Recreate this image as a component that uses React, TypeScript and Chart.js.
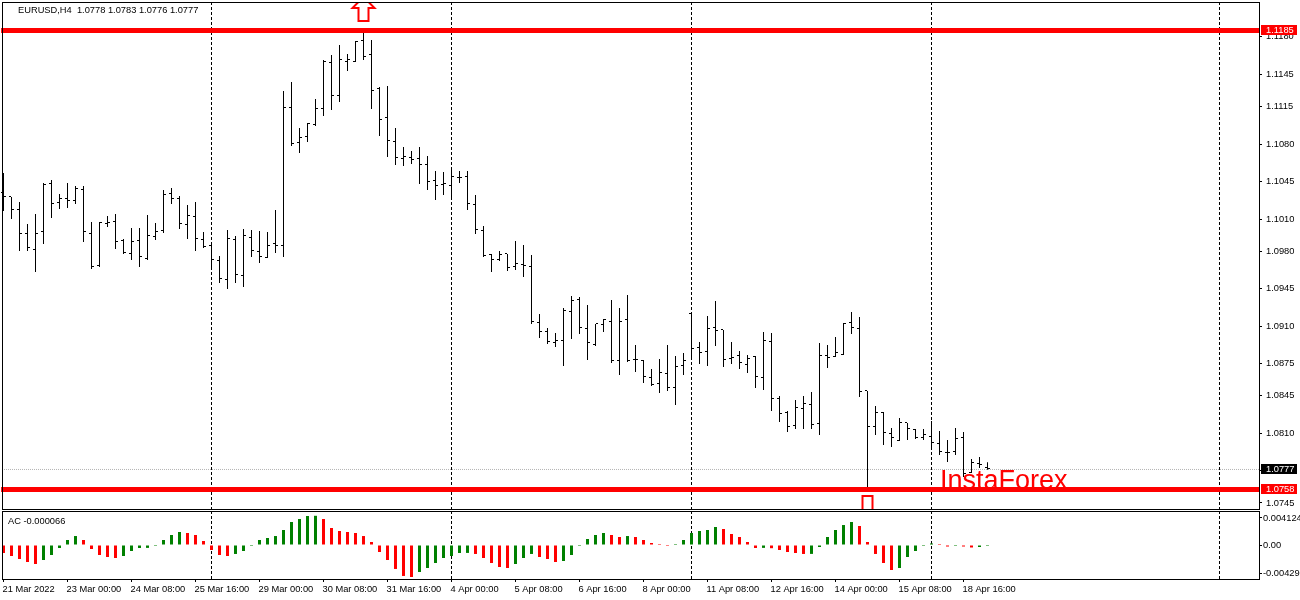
import React, { useEffect, useRef } from "react";
import { Chart, registerables } from "chart.js";

Chart.register(...registerables);

const opens = [
  1.10344, 1.10306, 1.10185, 1.0997, 1.09812, 1.0998, 1.10428, 1.1025, 1.10288, 1.10269,
  1.10372, 1.0997, 1.09662, 1.10054, 1.10073, 1.09896, 1.09774, 1.09896, 1.09728, 1.09933,
  1.09989, 1.10334, 1.10288, 1.10045, 1.1012, 1.09905, 1.09858, 1.09709, 1.09532, 1.09905,
  1.09569, 1.09924, 1.09793, 1.09737, 1.09868, 1.09849, 1.11146, 1.1081, 1.10866, 1.10978,
  1.11128, 1.11557, 1.11258, 1.11566, 1.11566, 1.11762, 1.11632, 1.11314, 1.11044, 1.1082,
  1.10661, 1.1067, 1.10661, 1.10605, 1.10456, 1.10418, 1.10409, 1.10484, 1.10502, 1.10232,
  1.09989, 1.09765, 1.09718, 1.09774, 1.09653, 1.09672, 1.09653, 1.0913, 1.09046, 1.08944,
  1.08962, 1.09233, 1.09345, 1.09074, 1.08925, 1.09112, 1.0914, 1.08776, 1.09158, 1.08785,
  1.08776, 1.08617, 1.08561, 1.08654, 1.08524, 1.08729, 1.09214, 1.08897, 1.0886, 1.09084,
  1.09065, 1.08794, 1.08822, 1.08738, 1.08813, 1.08617, 1.08953, 1.08421, 1.0829, 1.08169,
  1.08328, 1.08365, 1.08188, 1.08822, 1.08813, 1.08832, 1.0913, 1.09074, 1.08496, 1.0816,
  1.0829, 1.08094, 1.08029, 1.08197, 1.08132, 1.08057, 1.08066, 1.08001, 1.07917, 1.07926,
  1.08057, 1.0773, 1.07814, 1.0778,
];
const highs = [
  1.1053, 1.10306, 1.1026, 1.10054, 1.10148, 1.10437, 1.10465, 1.10334, 1.10437, 1.10409,
  1.10409, 1.10073, 1.10073, 1.10129, 1.10148, 1.09914, 1.10017, 1.10017, 1.10138, 1.10064,
  1.10372, 1.1039, 1.10316, 1.10232, 1.1026, 1.0998, 1.09886, 1.09756, 1.09998, 1.09942,
  1.10008, 1.09998, 1.09989, 1.0998, 1.10185, 1.11296, 1.1138, 1.1095, 1.10997, 1.11221,
  1.11585, 1.11632, 1.11725, 1.11641, 1.11762, 1.11837, 1.11772, 1.11333, 1.11342, 1.1095,
  1.10773, 1.10736, 1.10773, 1.10689, 1.10549, 1.1054, 1.10558, 1.10549, 1.10549, 1.10325,
  1.10036, 1.09774, 1.09802, 1.09774, 1.09896, 1.09858, 1.09765, 1.09214, 1.09084, 1.09037,
  1.0927, 1.09382, 1.09373, 1.09298, 1.09121, 1.09168, 1.09345, 1.0927, 1.09392, 1.08925,
  1.08785, 1.08701, 1.08794, 1.08925, 1.08822, 1.0885, 1.09224, 1.08953, 1.09196, 1.09336,
  1.09065, 1.08953, 1.08869, 1.08832, 1.08822, 1.09046, 1.09037, 1.08449, 1.08309, 1.08412,
  1.08449, 1.08486, 1.08944, 1.08925, 1.09, 1.0913, 1.09233, 1.09186, 1.08496, 1.08356,
  1.083, 1.0815, 1.08244, 1.08197, 1.08141, 1.08141, 1.08216, 1.08122, 1.08038, 1.0815,
  1.08113, 1.07861, 1.0788, 1.0783,
];
const lows = [
  1.10176, 1.10101, 1.09802, 1.09802, 1.09606, 1.09868, 1.1011, 1.10194, 1.10204, 1.10241,
  1.09886, 1.09634, 1.09653, 1.10026, 1.09821, 1.09774, 1.09718, 1.09653, 1.09718, 1.09905,
  1.0997, 1.10241, 1.10008, 1.09914, 1.09802, 1.0983, 1.09653, 1.09504, 1.09448, 1.09504,
  1.09466, 1.09746, 1.0969, 1.09737, 1.09784, 1.09746, 1.10782, 1.10717, 1.1082, 1.10969,
  1.11062, 1.11118, 1.11193, 1.11482, 1.11566, 1.11585, 1.11128, 1.10876, 1.1068, 1.10605,
  1.10596, 1.10614, 1.10428, 1.10372, 1.10278, 1.10325, 1.10306, 1.10437, 1.10185, 1.09961,
  1.09746, 1.09606, 1.09709, 1.09616, 1.09625, 1.0956, 1.09121, 1.0899, 1.08934, 1.08906,
  1.08729, 1.08981, 1.09028, 1.08785, 1.08916, 1.09046, 1.08757, 1.08645, 1.08766, 1.08673,
  1.0857, 1.08542, 1.08477, 1.08496, 1.08365, 1.08645, 1.08794, 1.08748, 1.08729, 1.08916,
  1.0872, 1.08748, 1.08701, 1.08664, 1.08524, 1.08505, 1.08309, 1.08206, 1.08113, 1.08141,
  1.08141, 1.08141, 1.08085, 1.0871, 1.08813, 1.08832, 1.09028, 1.0844, 1.07581, 1.08085,
  1.07992, 1.07973, 1.08029, 1.08038, 1.08048, 1.08038, 1.07954, 1.07898, 1.07833, 1.07898,
  1.07693, 1.0773, 1.07777, 1.0776,
];
const closes = [
  1.10306, 1.10185, 1.0997, 1.0983, 1.0997, 1.10418, 1.10241, 1.10288, 1.10269, 1.10381,
  1.0998, 1.09653, 1.10064, 1.10064, 1.09886, 1.09784, 1.09886, 1.09746, 1.09942, 1.0998,
  1.10325, 1.10288, 1.10054, 1.10129, 1.09914, 1.0984, 1.09718, 1.09541, 1.09914, 1.09578,
  1.09942, 1.09802, 1.09746, 1.09858, 1.09858, 1.11137, 1.10801, 1.10857, 1.10988, 1.11128,
  1.11566, 1.11258, 1.11585, 1.11585, 1.11753, 1.11613, 1.11296, 1.11025, 1.10829, 1.1067,
  1.1068, 1.10652, 1.10614, 1.10446, 1.10409, 1.10428, 1.10502, 1.10484, 1.10241, 1.09998,
  1.09756, 1.09718, 1.09765, 1.09644, 1.09681, 1.09662, 1.0914, 1.09046, 1.08953, 1.08962,
  1.09242, 1.09336, 1.09084, 1.08944, 1.09121, 1.09158, 1.08776, 1.0914, 1.08776, 1.08785,
  1.08626, 1.08552, 1.08664, 1.08524, 1.0872, 1.08776, 1.08888, 1.0885, 1.09074, 1.09056,
  1.08785, 1.08804, 1.08757, 1.08794, 1.08626, 1.08962, 1.08421, 1.08281, 1.0816, 1.08337,
  1.08374, 1.08178, 1.08822, 1.08804, 1.0885, 1.09121, 1.09084, 1.08486, 1.0816, 1.0829,
  1.08104, 1.08057, 1.08197, 1.08141, 1.08057, 1.08085, 1.0801, 1.07926, 1.07917, 1.08048,
  1.07721, 1.07824, 1.07805, 1.0777,
];
const acValues = [
  -0.00122, -0.00168, -0.00214, -0.0026, -0.0029, -0.00229, -0.00153, -0.00046, 0.00076, 0.00137,
  0.00076, -0.00061, -0.00153, -0.00183, -0.00199, -0.00168, -0.00092, -0.00046, -0.00044, -0.00015,
  0.00076, 0.00153, 0.00199, 0.00183, 0.00153, 0.00061, -0.00076, -0.00153, -0.00168, -0.00137,
  -0.00092, -0.00015, 0.00076, 0.00107, 0.00137, 0.00229, 0.00351, 0.00397, 0.00443, 0.00446,
  0.00397, 0.0026, 0.00214, 0.00199, 0.00183, 0.00137, 0.00046, -0.00107, -0.00229, -0.00366,
  -0.00473, -0.00489, -0.00412, -0.00351, -0.00275, -0.00199, -0.00168, -0.00122, -0.00121, -0.00137,
  -0.00199, -0.00275, -0.00336, -0.00351, -0.0029, -0.00199, -0.00137, -0.00183, -0.00214, -0.0026,
  -0.00244, -0.00153, -0.00015, 0.00092, 0.00153, 0.00183, 0.00153, 0.00122, 0.00137, 0.00122,
  0.00076, 0.00031, 0.00015, -0.00015, 0.00015, 0.00076, 0.00183, 0.00214, 0.00229, 0.00275,
  0.00244, 0.00168, 0.00122, 0.00046, -0.00046, -0.00044, -0.00049, -0.00076, -0.00107, -0.00122,
  -0.00137, -0.00136, -0.00031, 0.00122, 0.00229, 0.00305, 0.00351, 0.0029, 0.00046, -0.00137,
  -0.00275, -0.00382, -0.00351, -0.00183, -0.00092, -0.00008, 0.00023, 0.00015, -0.00023, -0.00008,
  -0.00023, -0.00038, -0.00031, -0.000066,
];

const priceTicks = [1.118, 1.1145, 1.1115, 1.108, 1.1045, 1.101, 1.098, 1.0945, 1.091, 1.0875, 1.0845, 1.081, 1.0775, 1.0745];
const acTicks = [0.004124, 0, -0.004292];
const acTickLabels = ["0.004124", "0.00", "-0.004292"];
const timeTickBars = [0, 8, 16, 24, 32, 40, 48, 56, 64, 72, 80, 88, 96, 104, 112, 120];
const timeLabels = [
  "21 Mar 2022", "23 Mar 00:00", "24 Mar 08:00", "25 Mar 16:00", "29 Mar 00:00", "30 Mar 08:00",
  "31 Mar 16:00", "4 Apr 00:00", "5 Apr 08:00", "6 Apr 16:00", "8 Apr 00:00", "11 Apr 08:00",
  "12 Apr 16:00", "14 Apr 00:00", "15 Apr 08:00", "18 Apr 16:00",
];
const separatorBars = [26, 56, 86, 116, 152];
const resistanceLevel = 1.1186;
const supportLevel = 1.07576;
const bidLevel = 1.07763;
const upArrow = { bar: 45, price: 1.11949 };
const downArrow = { bar: 108, price: 1.07516 };
const priceTags = [
  { price: resistanceLevel, text: "1.1185", bg: "#ff0000" },
  { price: bidLevel, text: "1.0777", bg: "#000000" },
  { price: supportLevel, text: "1.0758", bg: "#ff0000" },
];
const symbolTitle = "EURUSD,H4  1.0778 1.0783 1.0776 1.0777";
const acTitle = "AC -0.000066";
const watermark = "InstaForex";

const FONT = "'Liberation Sans', Arial, sans-serif";
const FONT_SIZE = 9.3;
const X_MIN = -0.1875;
const X_MAX = 156.9375;
const GREEN = "#008000";
const RED = "#ff0000";

const noPad = (s: any) => {
  s.paddingTop = 0;
  s.paddingBottom = 0;
  s.paddingLeft = 0;
  s.paddingRight = 0;
};
const fixWidth = (w: number) => (s: any) => { s.width = w; noPad(s); };
const fixHeight = (h: number) => (s: any) => { s.height = h; noPad(s); };

const separatorAxis = (position: string) => ({
  type: "linear",
  axis: "x",
  position,
  min: X_MIN,
  max: X_MAX,
  offset: false,
  afterBuildTicks: (s: any) => { s.ticks = separatorBars.map((value) => ({ value })); },
  afterFit: fixHeight(0),
  ticks: { display: false },
  grid: { offset: false, drawTicks: false, color: "#000", lineWidth: 1 },
  border: { display: false, dash: [3, 2] },
});

const frame = (c: any) => {
  const { ctx, chartArea: a } = c;
  ctx.save();
  ctx.strokeStyle = "#000";
  ctx.lineWidth = 1;
  ctx.strokeRect(a.left + 0.5, a.top + 0.5, a.right - a.left, a.bottom - a.top);
  ctx.restore();
};

const ohlcPlugin = {
  id: "ohlcTicks",
  beforeDatasetsDraw(c: any) {
    const { ctx, scales } = c;
    ctx.save();
    ctx.fillStyle = "#000";
    opens.forEach((o, i) => {
      const x = Math.floor(scales.x.getPixelForValue(i));
      ctx.fillRect(x - 2, Math.floor(scales.y.getPixelForValue(o)), 2, 1);
      ctx.fillRect(x + 1, Math.floor(scales.y.getPixelForValue(closes[i])), 2, 1);
    });
    ctx.restore();
  },
};

const arrowPath = (ctx: any, cx: number, tipY: number, dir: number, length: number) => {
  ctx.beginPath();
  ctx.moveTo(cx, tipY);
  ctx.lineTo(cx + 11, tipY + dir * 11);
  ctx.lineTo(cx + 5, tipY + dir * 11);
  ctx.lineTo(cx + 5, tipY + dir * length);
  ctx.lineTo(cx - 5, tipY + dir * length);
  ctx.lineTo(cx - 5, tipY + dir * 11);
  ctx.lineTo(cx - 11, tipY + dir * 11);
  ctx.closePath();
  ctx.stroke();
};

const mainDecor = {
  id: "mainDecor",
  afterDatasetsDraw(c: any) {
    const { ctx, scales, chartArea: a } = c;
    ctx.save();
    ctx.beginPath();
    ctx.rect(a.left, a.top, a.right - a.left, a.bottom - a.top);
    ctx.clip();
    ctx.strokeStyle = RED;
    ctx.lineWidth = 2;
    const ux = Math.floor(scales.x.getPixelForValue(upArrow.bar)) + 0.5;
    const uy = scales.y.getPixelForValue(upArrow.price);
    arrowPath(ctx, ux, uy - 24, 1, 24);
    const dx = Math.floor(scales.x.getPixelForValue(downArrow.bar)) + 0.5;
    const dy = scales.y.getPixelForValue(downArrow.price);
    arrowPath(ctx, dx, dy + 27, -1, 27);
    ctx.restore();

    ctx.save();
    ctx.textBaseline = "alphabetic";
    ctx.fillStyle = RED;
    ctx.font = `27px ${FONT}`;
    ctx.fillText(watermark, 940, scales.y.getPixelForValue(supportLevel) - 1);
    ctx.fillStyle = "#000";
    ctx.font = `${FONT_SIZE}px ${FONT}`;
    ctx.textBaseline = "middle";
    ctx.fillText(symbolTitle, 18, 10.5);
    ctx.restore();
  },
  afterDraw(c: any) {
    frame(c);
    const { ctx, scales } = c;
    ctx.save();
    ctx.font = `${FONT_SIZE}px ${FONT}`;
    ctx.textBaseline = "middle";
    priceTags.forEach((t) => {
      const y = Math.round(scales.y.getPixelForValue(t.price));
      ctx.fillStyle = t.bg;
      ctx.fillRect(1261, y - 5, 36, 10);
      ctx.fillStyle = "#fff";
      ctx.fillText(t.text, 1266, y + 0.5);
    });
    ctx.restore();
  },
};

const acDecor = {
  id: "acDecor",
  afterDraw(c: any) {
    frame(c);
    const { ctx } = c;
    ctx.save();
    ctx.fillStyle = "#000";
    ctx.font = `${FONT_SIZE}px ${FONT}`;
    ctx.textBaseline = "middle";
    ctx.fillText(acTitle, 8, 11);
    ctx.restore();
  },
};

export default function App() {
  const mainRef = useRef<HTMLCanvasElement>(null);
  const acRef = useRef<HTMLCanvasElement>(null);

  useEffect(() => {
    document.body.style.margin = "0";
    document.body.style.background = "#fff";
    const hLine = (y: number) => [{ x: -0.3, y }, { x: X_MAX, y }];
    const main = new Chart(mainRef.current as any, {
      type: "bar",
      data: {
        datasets: [
          {
            type: "line",
            label: "Resistance",
            data: hLine(resistanceLevel),
            borderColor: RED,
            borderWidth: 5,
            pointRadius: 0,
            clip: false,
            order: 1,
          },
          {
            type: "line",
            label: "Support",
            data: hLine(supportLevel),
            borderColor: RED,
            borderWidth: 5,
            pointRadius: 0,
            clip: false,
            order: 1,
          },
          {
            type: "line",
            label: "Bid",
            data: [{ x: X_MIN, y: bidLevel }, { x: X_MAX, y: bidLevel }],
            borderColor: "#b4b4b4",
            borderWidth: 1,
            borderDash: [1, 1],
            pointRadius: 0,
            order: 4,
          },
          {
            type: "bar",
            label: "EURUSD",
            data: highs.map((h, i) => ({ x: i, y: [lows[i], h] })),
            backgroundColor: "#000",
            barThickness: 1,
            grouped: false,
            inflateAmount: 0,
            order: 3,
          },
        ] as any,
      },
      options: {
        responsive: false,
        animation: false,
        devicePixelRatio: 1,
        layout: { padding: { left: 2, top: 2, right: 0, bottom: 1 } },
        plugins: { legend: { display: false }, tooltip: { enabled: false }, title: { display: false } },
        scales: {
          x: separatorAxis("bottom"),
          y: {
            type: "linear",
            position: "right",
            min: 1.07394,
            max: 1.12126,
            afterFit: fixWidth(41),
            afterBuildTicks: (s: any) => { s.ticks = priceTicks.map((value) => ({ value })); },
            ticks: {
              color: "#000",
              font: { family: FONT, size: FONT_SIZE },
              padding: 4,
              autoSkip: false,
              callback: (v: any) => Number(v).toFixed(4),
            },
            grid: { drawOnChartArea: false, drawTicks: true, tickLength: 3, tickColor: "#000", tickWidth: 1 },
            border: { display: false },
          },
        },
      } as any,
      plugins: [ohlcPlugin, mainDecor],
    });

    const ac = new Chart(acRef.current as any, {
      type: "bar",
      data: {
        datasets: [
          {
            label: "AC",
            data: acValues.map((v, i) => ({ x: i, y: v })),
            backgroundColor: acValues.map((v, i) => (i > 0 && v > acValues[i - 1] ? GREEN : RED)),
            barThickness: 3,
            minBarLength: 1,
            grouped: false,
            inflateAmount: 0,
          },
        ] as any,
      },
      options: {
        responsive: false,
        animation: false,
        devicePixelRatio: 1,
        layout: { padding: { left: 2, top: 1, right: 0, bottom: 0 } },
        plugins: { legend: { display: false }, tooltip: { enabled: false }, title: { display: false } },
        scales: {
          x: {
            type: "linear",
            position: "bottom",
            min: X_MIN,
            max: X_MAX,
            offset: false,
            afterFit: fixHeight(21),
            afterBuildTicks: (s: any) => { s.ticks = timeTickBars.map((value) => ({ value })); },
            ticks: {
              color: "#000",
              font: { family: FONT, size: FONT_SIZE },
              align: "start",
              labelOffset: -1,
              padding: 2,
              autoSkip: false,
              maxRotation: 0,
              minRotation: 0,
              callback: (_v: any, i: number) => timeLabels[i],
            },
            grid: { offset: false, drawOnChartArea: false, drawTicks: true, tickLength: 3, tickColor: "#000", tickWidth: 1 },
            border: { display: false },
          },
          gx: separatorAxis("top"),
          y: {
            type: "linear",
            position: "right",
            min: -0.005193,
            max: 0.005193,
            afterFit: fixWidth(41),
            afterBuildTicks: (s: any) => { s.ticks = acTicks.map((value) => ({ value })); },
            ticks: {
              color: "#000",
              font: { family: FONT, size: FONT_SIZE },
              padding: 1,
              autoSkip: false,
              callback: (_v: any, i: number) => acTickLabels[i],
            },
            grid: { drawOnChartArea: false, drawTicks: true, tickLength: 3, tickColor: "#000", tickWidth: 1 },
            border: { display: false },
          },
        },
      } as any,
      plugins: [acDecor],
    });

    return () => {
      main.destroy();
      ac.destroy();
    };
  }, []);

  return (
    <div style={{ position: "relative", width: 1300, height: 600, overflow: "hidden", background: "#fff" }}>
      <canvas ref={mainRef} width={1300} height={510} style={{ position: "absolute", left: 0, top: 0, width: 1300, height: 510 }} />
      <canvas ref={acRef} width={1300} height={90} style={{ position: "absolute", left: 0, top: 510, width: 1300, height: 90 }} />
    </div>
  );
}
